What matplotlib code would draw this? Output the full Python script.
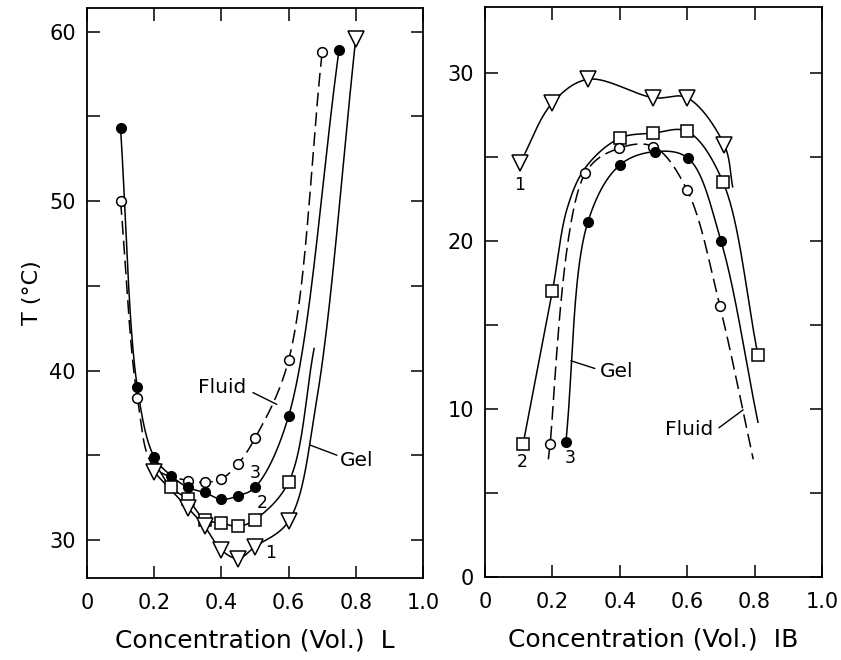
import numpy as np
import matplotlib
matplotlib.use("Agg")
import matplotlib.pyplot as plt
from matplotlib.ticker import FixedLocator

plt.rcParams['font.family'] = ['DejaVu Sans']

# ---- left panel: system L ----
L_fluid_x = [0.10, 0.15, 0.20, 0.30, 0.35, 0.40, 0.45, 0.50, 0.60, 0.70]
L_fluid_T = [50.0, 38.4, 34.3, 33.5, 33.4, 33.6, 34.5, 36.0, 40.6, 58.8]

L_gel3_x = [0.10, 0.15, 0.20, 0.25, 0.30, 0.35, 0.40, 0.45, 0.50, 0.60, 0.75]
L_gel3_T = [54.3, 39.0, 34.9, 33.8, 33.1, 32.8, 32.4, 32.6, 33.1, 37.3, 58.9]

L_gel2_x = [0.25, 0.30, 0.35, 0.40, 0.45, 0.50, 0.60]
L_gel2_T = [33.1, 32.4, 31.2, 31.0, 30.8, 31.2, 33.4]
L_gel2_curve_x = [0.20, 0.676]      # unmarked curve ends
L_gel2_curve_T = [34.6, 41.3]

L_gel1_x = [0.20, 0.30, 0.35, 0.40, 0.45, 0.50, 0.60, 0.80]
L_gel1_T = [34.0, 31.9, 30.8, 29.4, 28.9, 29.6, 31.1, 59.6]
L_gel1_curve_x = [0.684]
L_gel1_curve_T = [38.3]

# ---- right panel: system IB ----
R_gel1_x = [0.104, 0.20, 0.306, 0.50, 0.60, 0.71]
R_gel1_T = [24.6, 28.2, 29.6, 28.5, 28.5, 25.7]
R_gel1_curve_x = [0.735]
R_gel1_curve_T = [23.2]

R_gel2_x = [0.113, 0.20, 0.40, 0.50, 0.60, 0.706, 0.81]
R_gel2_T = [7.9, 17.0, 26.1, 26.4, 26.5, 23.5, 13.2]
R_gel2_curve_x = [0.245, 0.30]
R_gel2_curve_T = [22.0, 24.4]

R_fluid_x = [0.193, 0.297, 0.398, 0.50, 0.60, 0.697]
R_fluid_T = [7.9, 24.0, 25.5, 25.6, 23.0, 16.1]
R_fluid_curve_x = [0.188, 0.796]
R_fluid_curve_T = [7.0, 7.0]

R_gel3_x = [0.24, 0.305, 0.40, 0.505, 0.603, 0.70]
R_gel3_T = [8.0, 21.1, 24.5, 25.3, 24.9, 20.0]
R_gel3_curve_x = [0.81]
R_gel3_curve_T = [9.2]

xticks = [0, 0.2, 0.4, 0.6, 0.8, 1.0]
xticklabels = ['0', '0.2', '0.4', '0.6', '0.8', '1.0']


def knots(x, T, cx=(), cT=()):
    x = np.concatenate([x, cx])
    T = np.concatenate([T, cT])
    o = np.argsort(x)
    return x[o], T[o]


def smooth(ax, x, T, n=40):
    # centripetal catmull-rom through the knots, done in pixel space
    p = ax.transData.transform(np.column_stack([x, T]))
    p = np.vstack([2 * p[0] - p[1], p, 2 * p[-1] - p[-2]])
    out = []
    for i in range(1, len(p) - 2):
        p0, p1, p2, p3 = p[i - 1], p[i], p[i + 1], p[i + 2]
        t0 = 0.0
        t1 = t0 + max(np.linalg.norm(p1 - p0), 1e-6) ** 0.5
        t2 = t1 + max(np.linalg.norm(p2 - p1), 1e-6) ** 0.5
        t3 = t2 + max(np.linalg.norm(p3 - p2), 1e-6) ** 0.5
        t = np.linspace(t1, t2, n)[:, None]
        a1 = (t1 - t) / (t1 - t0) * p0 + (t - t0) / (t1 - t0) * p1
        a2 = (t2 - t) / (t2 - t1) * p1 + (t - t1) / (t2 - t1) * p2
        a3 = (t3 - t) / (t3 - t2) * p2 + (t - t2) / (t3 - t2) * p3
        b1 = (t2 - t) / (t2 - t0) * a1 + (t - t0) / (t2 - t0) * a2
        b2 = (t3 - t) / (t3 - t1) * a2 + (t - t1) / (t3 - t1) * a3
        c = (t2 - t) / (t2 - t1) * b1 + (t - t1) / (t2 - t1) * b2
        out.append(c)
    out = np.vstack(out)
    return ax.transData.inverted().transform(out).T


fig = plt.figure(figsize=(8.41, 6.6), dpi=100)
axL = fig.add_axes([0.1034, 0.1242, 0.3995, 0.8636])
axR = fig.add_axes([0.5767, 0.1258, 0.4007, 0.8636])

axL.set_xlim(0, 1)
axL.set_ylim(27.75, 61.4)
axR.set_xlim(0, 1)
axR.set_ylim(0, 33.9)

dash = (0, (9, 4))
lw = 1.1

# left curves
for (x, T, cx, cT, ls) in [
        (L_fluid_x, L_fluid_T, [], [], dash),
        (L_gel3_x, L_gel3_T, [], [], '-'),
        (L_gel2_x, L_gel2_T, L_gel2_curve_x, L_gel2_curve_T, '-'),
        (L_gel1_x, L_gel1_T, L_gel1_curve_x, L_gel1_curve_T, '-')]:
    kx, kT = knots(x, T, cx, cT)
    sx, sT = smooth(axL, kx, kT)
    axL.plot(sx, sT, color='black', lw=lw, linestyle=ls)

axL.plot(L_fluid_x, L_fluid_T, 'o', ms=7, mfc='white', mec='black', mew=1.1)
axL.plot(L_gel3_x, L_gel3_T, 'o', ms=7, mfc='black', mec='black')
axL.plot(L_gel2_x, L_gel2_T, 's', ms=8, mfc='white', mec='black', mew=1.1)
axL.plot(L_gel1_x, L_gel1_T, 'v', ms=11, mfc='white', mec='black', mew=1.1)

# right curves
for (x, T, cx, cT, ls) in [
        (R_gel1_x, R_gel1_T, R_gel1_curve_x, R_gel1_curve_T, '-'),
        (R_gel2_x, R_gel2_T, R_gel2_curve_x, R_gel2_curve_T, '-'),
        (R_fluid_x, R_fluid_T, R_fluid_curve_x, R_fluid_curve_T, dash),
        (R_gel3_x, R_gel3_T, R_gel3_curve_x, R_gel3_curve_T, '-')]:
    kx, kT = knots(x, T, cx, cT)
    sx, sT = smooth(axR, kx, kT)
    axR.plot(sx, sT, color='black', lw=lw, linestyle=ls)

axR.plot(R_gel1_x, R_gel1_T, 'v', ms=11, mfc='white', mec='black', mew=1.1)
axR.plot(R_gel2_x, R_gel2_T, 's', ms=8, mfc='white', mec='black', mew=1.1)
axR.plot(R_fluid_x, R_fluid_T, 'o', ms=7, mfc='white', mec='black', mew=1.1)
axR.plot(R_gel3_x, R_gel3_T, 'o', ms=7, mfc='black', mec='black')

# labels on the curves
lead = dict(arrowstyle='-', color='black', lw=1.0, shrinkA=0, shrinkB=0)
axL.text(0.402, 39.0, 'Fluid', fontsize=14.5, ha='center', va='center')
axL.annotate('', xy=(0.565, 38.0), xytext=(0.494, 38.7), arrowprops=lead)
axL.text(0.804, 34.66, 'Gel', fontsize=14.5, ha='center', va='center')
axL.annotate('', xy=(0.664, 35.6), xytext=(0.744, 35.0), arrowprops=lead)
axL.text(0.50, 33.95, '3', fontsize=12.5, ha='center', va='center')
axL.text(0.521, 32.2, '2', fontsize=12.5, ha='center', va='center')
axL.text(0.548, 29.2, '1', fontsize=12.5, ha='center', va='center')

axR.text(0.104, 23.3, '1', fontsize=12.5, ha='center', va='center')
axR.text(0.11, 6.85, '2', fontsize=12.5, ha='center', va='center')
axR.text(0.252, 7.1, '3', fontsize=12.5, ha='center', va='center')
axR.text(0.392, 12.2, 'Gel', fontsize=14.5, ha='center', va='center')
axR.annotate('', xy=(0.255, 12.86), xytext=(0.326, 12.4), arrowprops=lead)
axR.text(0.605, 8.8, 'Fluid', fontsize=14.5, ha='center', va='center')
axR.annotate('', xy=(0.766, 9.94), xytext=(0.694, 8.87), arrowprops=lead)

# axes styling
for ax in (axL, axR):
    ax.set_xticks(xticks)
    ax.set_xticklabels(xticklabels)
    ax.tick_params(axis='both', which='both', direction='in', top=True,
                   right=True, length=9, width=1.1, labelsize=15)
    ax.tick_params(axis='x', pad=11)
    ax.tick_params(axis='y', pad=8)
    for s in ax.spines.values():
        s.set_linewidth(1.3)

axL.yaxis.set_major_locator(FixedLocator([30, 40, 50, 60]))
axL.yaxis.set_minor_locator(FixedLocator([35, 45, 55]))
axR.yaxis.set_major_locator(FixedLocator([0, 10, 20, 30]))
axR.yaxis.set_minor_locator(FixedLocator([5, 15, 25]))

axL.set_ylabel('T (°C)', fontsize=16, labelpad=5)
axL.set_xlabel('Concentration (Vol.)  L', fontsize=18, labelpad=11)
axR.set_xlabel('Concentration (Vol.)  IB', fontsize=18, labelpad=11)

fig.savefig('out.png', dpi=100)
